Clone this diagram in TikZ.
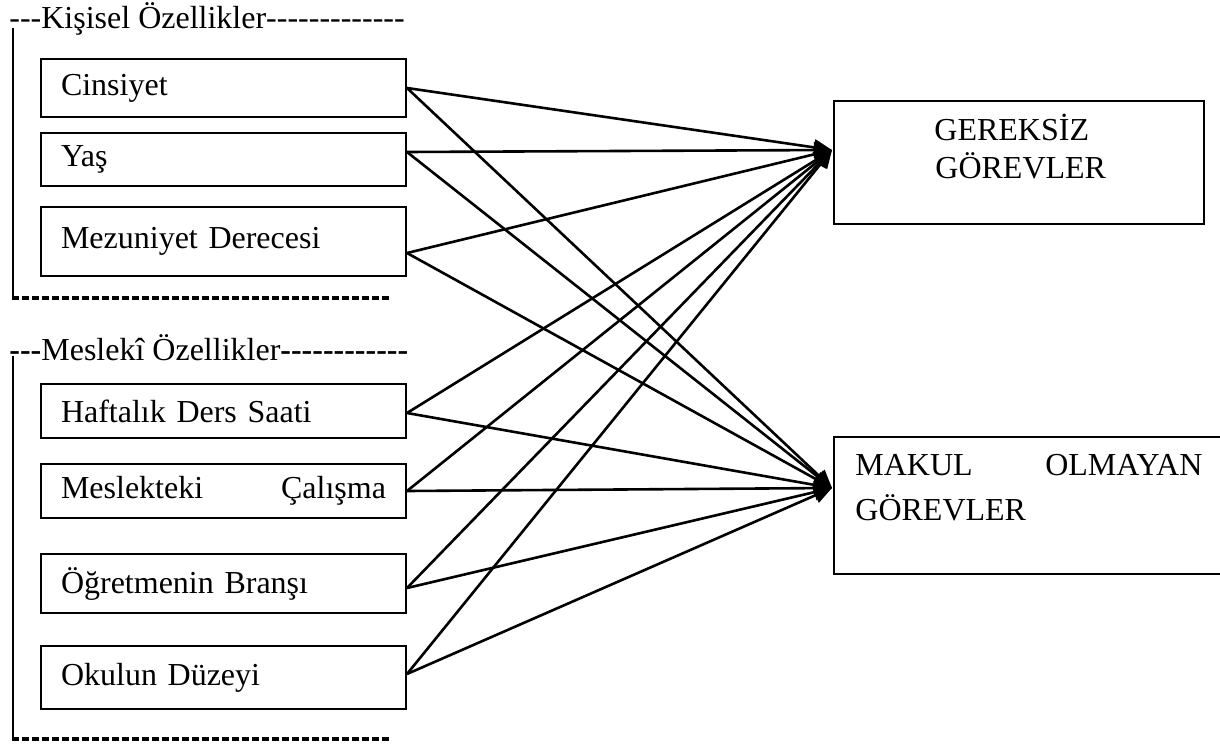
\documentclass[tikz,border=0pt]{standalone}
\usepackage{fontspec}
\setmainfont{Liberation Serif}
\usetikzlibrary{arrows.meta}

% a run of single hyphens (kept apart so no dash ligature forms)
\newcommand{\tireler}[1]{\foreach \k in {1,...,#1}{\hbox{-}}}

\tikzset{
    kutu/.style={draw, line width=1pt, anchor=north west, minimum width=182.5pt,
        text width=162.5pt, inner xsep=10pt, align=left},
    sonuc/.style={draw, line width=1pt, anchor=north west, inner sep=0pt},
    satir/.style={anchor=base west, inner sep=0pt},
    ok/.style={line width=1.3pt, -{Triangle[length=9pt, width=8pt]}},
    cizgi/.style={line width=2pt, dash pattern=on 3.5pt off 1.5pt}
}

\begin{document}
\begin{tikzpicture}[x=0.5pt, y=-0.5pt, font=\fontsize{16}{18.5}\selectfont]
        \useasboundingbox (0, 0) rectangle (1220, 744);
        \clip (0, 0) rectangle (1220, 744);

        \coordinate (G) at (832, 150);
        \coordinate (M) at (832, 488);

        % personal characteristics
        \node[satir] (kisisel) at (9, 28) {\tireler{3}Kişisel Özellikler\tireler{13}};
        \draw[line width=1pt] (13, 28) -- (13, 299);
        \draw[cizgi] (12, 298) -- (390, 298);

        \node[kutu, minimum height=29pt] (cinsiyet) at (40, 58) {Cinsiyet};
        \node[kutu, minimum height=26.5pt] (yas) at (40, 132) {Yaş};
        \node[kutu, minimum height=34.5pt] (mezuniyet) at (40, 206) {Mezuniyet Derecesi};

        % professional characteristics
        \node[satir] (meslek) at (9, 360) {\textbf{\tireler{3}}Meslekî Özellikler\textbf{\tireler{12}}};
        \draw[line width=1pt] (13, 356) -- (13, 740);
        \draw[cizgi] (12, 739) -- (390, 739);

        \node[kutu, minimum height=27pt] (haftalik) at (40, 383) {Haftalık Ders Saati};
        \node[kutu, minimum height=27pt] (calisma) at (40, 463) {\makebox[162.5pt][s]{Meslekteki\hfill Çalışma}};
        \node[kutu, minimum height=29.5pt] (brans) at (40, 553) {Öğretmenin Branşı};
        \node[kutu, minimum height=31.5pt] (duzey) at (40, 645) {Okulun Düzeyi};

        % outcomes
        \node[sonuc, minimum width=185pt, minimum height=61.5pt] (gereksiz) at (833, 100) {};
        \node[satir] (g1) at (934, 140) {GEREKSİZ};
        \node[satir] (g2) at (935, 178) {GÖREVLER};

        \node[sonuc, minimum width=200pt, minimum height=68.5pt] (makul) at (833, 436) {};
        \node[satir] (m1) at (855, 475) {\makebox[173.5pt][s]{MAKUL\hfill OLMAYAN}};
        \node[satir] (m2) at (855, 520) {GÖREVLER};

        % every characteristic to both outcomes
        \draw[ok] (cinsiyet.east) -- (G);
        \draw[ok] (cinsiyet.east) -- (M);
        \draw[ok] ([yshift=3.75pt]yas.east) -- (G);
        \draw[ok] ([yshift=3.75pt]yas.east) -- (M);
        \draw[ok] ([yshift=-5.75pt]mezuniyet.east) -- (G);
        \draw[ok] ([yshift=-5.75pt]mezuniyet.east) -- (M);
        \draw[ok] ([yshift=-1pt]haftalik.east) -- (G);
        \draw[ok] ([yshift=-1pt]haftalik.east) -- (M);
        \draw[ok] (calisma.east) -- (G);
        \draw[ok] (calisma.east) -- (M);
        \draw[ok] ([yshift=-2.25pt]brans.east) -- (G);
        \draw[ok] ([yshift=-2.25pt]brans.east) -- (M);
        \draw[ok] ([yshift=1.75pt]duzey.east) -- (G);
        \draw[ok] ([yshift=1.75pt]duzey.east) -- (M);
    \end{tikzpicture}
\end{document}
